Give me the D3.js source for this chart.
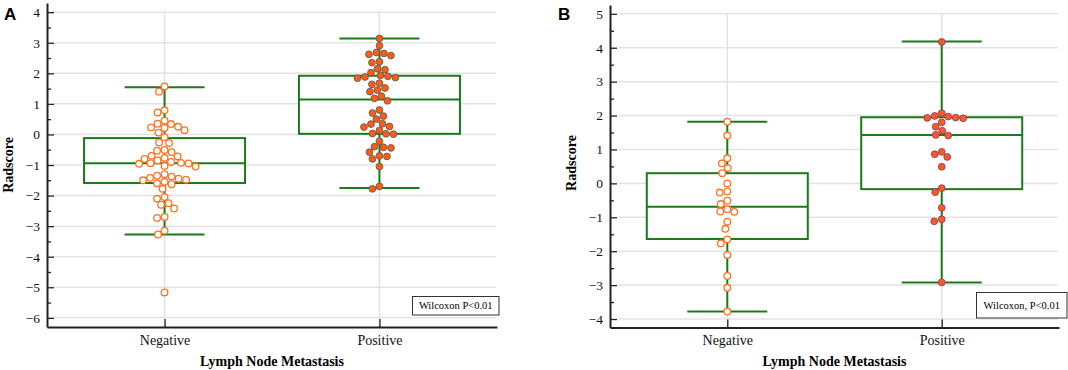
<!DOCTYPE html>
<html>
<head>
<meta charset="utf-8">
<script src="https://cdn.jsdelivr.net/npm/d3@7"></script>
<style>
  body { margin: 0; background: #fff; }
  svg { display: block; }
</style>
</head>
<body>
<div id="chart"></div>
<script>
// categories
const groups = ["Negative", "Positive"];

// panel A - radscore values
const negA = [1.57, 1.40, 0.79, 0.72, 0.45, 0.35, 0.34, 0.25, 0.23, 0.21, 0.14, 0.06, -0.09, -0.26, -0.28,
  -0.51, -0.53, -0.58, -0.70, -0.72, -0.77, -0.80, -0.85, -0.90, -0.93, -0.94, -0.95, -0.96, -1.03, -1.05,
  -1.30, -1.35, -1.38, -1.42, -1.45, -1.48, -1.50, -1.55, -1.60, -1.63, -1.78, -2.05, -2.10, -2.25, -2.30,
  -2.42, -2.70, -2.73, -3.15, -3.27, -5.17];
const posA = [3.14, 2.90, 2.68, 2.65, 2.62, 2.58, 2.38, 2.35, 2.15, 2.12, 2.02, 1.93, 1.90, 1.88, 1.86, 1.84,
  1.68, 1.64, 1.52, 1.45, 1.40, 1.25, 1.18, 1.10, 0.80, 0.70, 0.60, 0.50, 0.35, 0.34, 0.26, 0.24, 0.13, 0.03,
  0.02, 0.01, -0.22, -0.40, -0.42, -0.44, -0.58, -0.70, -0.72, -0.80, -1.05, -1.70, -1.78];

// panel B
const negB = [1.82, 1.41, 0.74, 0.59, 0.45, 0.30, 0.00, -0.24, -0.27, -0.51, -0.61, -0.76, -0.83, -0.84,
  -1.13, -1.34, -1.65, -1.77, -2.11, -2.73, -3.08, -3.78];
const posB = [4.17, 2.07, 1.99, 1.97, 1.94, 1.93, 1.92, 1.80, 1.67, 1.55, 1.43, 1.41, 0.93, 0.86, 0.78, 0.49,
  -0.14, -0.26, -0.72, -1.06, -1.12, -2.92];

// box stats: [q1, median, q3, whisker low, whisker high]
const boxNegA = [-1.59, -0.94, -0.12, -3.27, 1.54];
const boxPosA = [0.02, 1.14, 1.92, -1.75, 3.14];
const boxNegB = [-1.64, -0.69, 0.30, -3.78, 1.82];
const boxPosB = [-0.17, 1.43, 1.95, -2.92, 4.18];

// y ticks
const ticksA = d3.range(-6, 5);
const ticksB = d3.range(-4, 6);

const W = 1068, H = 370;
const green = "#1a7a1a";

const svg = d3.select("#chart").append("svg")
    .attr("width", W)
    .attr("height", H);

// simple beeswarm: sort by y and push each dot to the nearest free x offset
function swarm(values, cx, y, d) {
    const placed = [];
    const pts = values.map(v => ({ v: v, y: y(v) })).sort((a, b) => a.y - b.y);
    pts.forEach(p => {
        let off = 0;
        for (let k = 0; k < 400; k++) {
            const o = (k % 2 === 0 ? 1 : -1) * Math.ceil(k / 2) * 0.5;
            const ok = placed.every(q => (q.x - (cx + o)) ** 2 + (q.y - p.y) ** 2 >= d * d);
            if (ok) { off = o; break; }
        }
        p.x = cx + off;
        placed.push(p);
    });
    return pts;
}

function drawPanel(cfg) {
    const g = svg.append("g");

    const x = d3.scalePoint()
        .domain(groups)
        .range([cfg.x0, cfg.x1])
        .padding(0.547);

    const y = d3.scaleLinear()
        .domain(cfg.domain)
        .range([cfg.yBottom, cfg.yTop]);

    const top = y(d3.max(cfg.ticks));

    // horizontal gridlines
    g.selectAll(".hgrid")
        .data(cfg.ticks)
        .enter()
        .append("line")
        .attr("x1", cfg.x0 + cfg.gridGap)
        .attr("x2", cfg.x1 - 1)
        .attr("y1", d => y(d))
        .attr("y2", d => y(d))
        .attr("stroke", "#e3e3e3")
        .attr("stroke-width", 1.5);

    // vertical gridlines at the categories
    g.selectAll(".vgrid")
        .data(groups)
        .enter()
        .append("line")
        .attr("x1", d => x(d))
        .attr("x2", d => x(d))
        .attr("y1", top)
        .attr("y2", cfg.yBottom)
        .attr("stroke", "#e3e3e3")
        .attr("stroke-width", 1.5);

    const half = 80.5, cap = 40;

    cfg.boxes.forEach((b, i) => {
        const cx = x(groups[i]);
        // whiskers
        g.append("line")
            .attr("x1", cx).attr("x2", cx)
            .attr("y1", y(b[2])).attr("y2", y(b[4]))
            .attr("stroke", green).attr("stroke-width", 2);
        g.append("line")
            .attr("x1", cx).attr("x2", cx)
            .attr("y1", y(b[0])).attr("y2", y(b[3]))
            .attr("stroke", green).attr("stroke-width", 2);
        [b[3], b[4]].forEach(v => {
            g.append("line")
                .attr("x1", cx - cap).attr("x2", cx + cap)
                .attr("y1", y(v)).attr("y2", y(v))
                .attr("stroke", green).attr("stroke-width", 2);
        });
        // box
        g.append("rect")
            .attr("x", cx - half)
            .attr("y", y(b[2]))
            .attr("width", half * 2)
            .attr("height", y(b[0]) - y(b[2]))
            .attr("fill", "#fff")
            .attr("stroke", green)
            .attr("stroke-width", 2);
        g.append("line")
            .attr("x1", cx - half).attr("x2", cx + half)
            .attr("y1", y(b[1])).attr("y2", y(b[1]))
            .attr("stroke", green).attr("stroke-width", 2);
    });

    // dots
    const negPts = swarm(cfg.neg, x("Negative"), y, 7.3);
    g.selectAll(".neg")
        .data(negPts)
        .enter()
        .append("circle")
        .attr("cx", d => d.x)
        .attr("cy", d => d.y)
        .attr("r", 3.3)
        .attr("fill", "#fff")
        .attr("stroke", "#ff7322")
        .attr("stroke-width", 1.3);

    const posPts = swarm(cfg.pos, x("Positive"), y, 7.3);
    g.selectAll(".pos")
        .data(posPts)
        .enter()
        .append("circle")
        .attr("cx", d => d.x)
        .attr("cy", d => d.y)
        .attr("r", 3.4)
        .attr("fill", "#ff5c0f")
        .attr("stroke", cfg.posStroke)
        .attr("stroke-width", 0.9);

    // y axis, ticks pointing inward
    const yAxis = g.append("g")
        .attr("transform", `translate(${cfg.x0},0)`)
        .call(d3.axisLeft(y)
            .tickValues(cfg.ticks)
            .tickSize(-7)
            .tickSizeOuter(0)
            .tickPadding(7)
            .tickFormat(d3.format("d")));
    yAxis.select(".domain").attr("stroke", "#222").attr("stroke-width", 2);
    yAxis.selectAll(".tick line").attr("stroke", "#222").attr("stroke-width", 1.3);
    yAxis.selectAll("text")
        .style("font-family", "'Liberation Serif', serif")
        .style("font-size", "13.5px")
        .attr("fill", "#111");

    // minor ticks
    const minor = cfg.ticks.slice(1).map(t => t - 0.5).concat([d3.max(cfg.ticks) + 0.5]).filter(t => y(t) > cfg.yTop);
    g.append("g")
        .attr("transform", `translate(${cfg.x0},0)`)
        .call(d3.axisLeft(y).tickValues(minor).tickSize(-4).tickSizeOuter(0).tickFormat(""))
        .call(a => a.select(".domain").remove())
        .selectAll(".tick line").attr("stroke", "#222").attr("stroke-width", 1.3);

    // x axis
    const xAxis = g.append("g")
        .attr("transform", `translate(0,${cfg.yBottom})`)
        .call(d3.axisBottom(x).tickSize(-8).tickSizeOuter(0).tickPadding(8));
    xAxis.select(".domain").attr("stroke", "#222").attr("stroke-width", 2);
    xAxis.selectAll(".tick line").attr("stroke", "#222").attr("stroke-width", 1.3);
    xAxis.selectAll("text")
        .style("font-family", "'Liberation Serif', serif")
        .style("font-size", "14px")
        .attr("fill", "#111");

    // axis titles
    g.append("text")
        .attr("x", (cfg.x0 + cfg.x1) / 2)
        .attr("y", 366)
        .attr("text-anchor", "middle")
        .style("font-family", "'Liberation Serif', serif")
        .style("font-size", "14px")
        .style("font-weight", "bold")
        .text("Lymph Node Metastasis");

    g.append("text")
        .attr("transform", `translate(${cfg.x0 - 34},${y(cfg.labelAt)}) rotate(-90)`)
        .attr("text-anchor", "middle")
        .style("font-family", "'Liberation Serif', serif")
        .style("font-size", "14px")
        .style("font-weight", "bold")
        .text("Radscore");

    // panel letter
    g.append("text")
        .attr("x", cfg.letterX)
        .attr("y", 20)
        .style("font-family", "'Liberation Sans', Arial, sans-serif")
        .style("font-size", "17px")
        .style("font-weight", "bold")
        .text(cfg.letter);

    // test box
    g.append("rect")
        .attr("x", cfg.note[0])
        .attr("y", cfg.note[1])
        .attr("width", cfg.note[2])
        .attr("height", cfg.note[3])
        .attr("fill", "#fff")
        .attr("stroke", "#333")
        .attr("stroke-width", 1);
    g.append("text")
        .attr("x", cfg.note[0] + cfg.note[2] / 2)
        .attr("y", cfg.note[1] + cfg.note[3] / 2 + 3.5)
        .attr("text-anchor", "middle")
        .style("font-family", "'Liberation Serif', serif")
        .style("font-size", "10.5px")
        .text(cfg.noteText);
}

drawPanel({
    letter: "A", letterX: 4,
    x0: 47, x1: 497, gridGap: 6,
    domain: [-6.3, 4.3], yBottom: 327, yTop: 3,
    ticks: ticksA, labelAt: -1,
    neg: negA, pos: posA, posStroke: "#5d5d5d",
    boxes: [boxNegA, boxPosA],
    note: [412.5, 296.5, 86.5, 18.5], noteText: "Wilcoxon P<0.01"
});

drawPanel({
    letter: "B", letterX: 558,
    x0: 610, x1: 1059, gridGap: 9,
    domain: [-4.25, 5.26], yBottom: 327.5, yTop: 5,
    ticks: ticksB, labelAt: 0.6,
    neg: negB, pos: posB, posStroke: "#8b3a86",
    boxes: [boxNegB, boxPosB],
    note: [976.5, 292.5, 90.5, 25.5], noteText: "Wilcoxon, P<0.01"
});
</script>
</body>
</html>
